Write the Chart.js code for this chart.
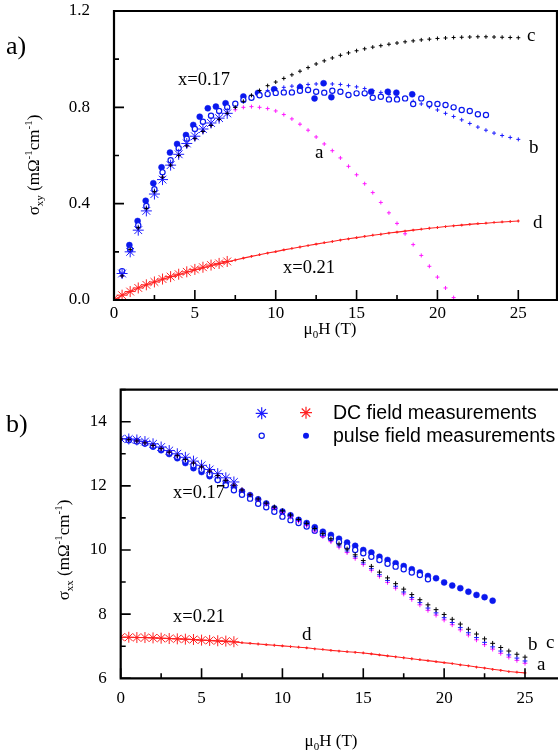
<!DOCTYPE html>
<html>
<head>
<meta charset="utf-8">
<script src="https://cdn.jsdelivr.net/npm/chart.js@4.4.0/dist/chart.umd.min.js"></script>
<style>
  html, body { margin: 0; padding: 0; background: #fff; }
  body { width: 558px; height: 752px; position: relative; overflow: hidden; }
  canvas { position: absolute; left: 0; }
  #hallChart { top: 0; }
  #longChart { top: 380px; }
</style>
</head>
<body>
<canvas id="hallChart" width="558" height="380"></canvas>
<canvas id="longChart" width="558" height="372"></canvas>
<script>
// Field grid (T) used by the model curves
const fieldFull = [0, 0.5, 1, 1.5, 2, 2.5, 3, 3.5, 4, 4.5, 5, 5.5, 6, 6.5, 7, 7.5, 8, 8.5, 9, 9.5,
  10, 10.5, 11, 11.5, 12, 12.5, 13, 13.5, 14, 14.5, 15, 15.5, 16, 16.5, 17, 17.5, 18, 18.5, 19, 19.5,
  20, 20.5, 21, 21.5, 22, 22.5, 23, 23.5, 24, 24.5, 25];
const fieldDc = fieldFull.slice(0, 15);          // 0 .. 7 T
const fieldPulse = fieldFull.slice(1, 47);       // 0.5 .. 23 T

// ---- sigma_xy (top panel) ----
const xyCurveA = [0, 0.10, 0.21, 0.30, 0.38, 0.45, 0.51, 0.56, 0.60, 0.64, 0.67, 0.70, 0.725, 0.75,
  0.775, 0.79, 0.80, 0.803, 0.80, 0.795, 0.785, 0.77, 0.752, 0.73, 0.705, 0.677, 0.648, 0.62, 0.59, 0.555,
  0.52, 0.483, 0.446, 0.405, 0.362, 0.318, 0.275, 0.23, 0.185, 0.14, 0.095, 0.05, 0.01, -0.03];
const xyCurveB = [0, 0.10, 0.21, 0.30, 0.38, 0.45, 0.51, 0.56, 0.60, 0.64, 0.67, 0.70, 0.725, 0.75,
  0.775, 0.80, 0.825, 0.845, 0.86, 0.87, 0.877, 0.883, 0.888, 0.892, 0.895, 0.897, 0.898, 0.897, 0.895, 0.89,
  0.885, 0.878, 0.87, 0.862, 0.853, 0.844, 0.835, 0.825, 0.814, 0.802, 0.789, 0.775, 0.762, 0.748, 0.733,
  0.718, 0.705, 0.693, 0.683, 0.675, 0.667];
const xyCurveC = [0, 0.10, 0.21, 0.30, 0.38, 0.45, 0.51, 0.56, 0.60, 0.64, 0.67, 0.70, 0.725, 0.75,
  0.775, 0.80, 0.825, 0.85, 0.87, 0.89, 0.905, 0.92, 0.935, 0.95, 0.965, 0.98, 0.993, 1.005, 1.016, 1.026,
  1.035, 1.043, 1.05, 1.056, 1.062, 1.067, 1.072, 1.076, 1.08, 1.083, 1.086, 1.088, 1.09, 1.091, 1.092,
  1.093, 1.093, 1.092, 1.091, 1.09, 1.089];
const xyCurveD = [0, 0.02, 0.035, 0.05, 0.063, 0.075, 0.086, 0.096, 0.106, 0.115, 0.125, 0.134, 0.143,
  0.151, 0.159, 0.166, 0.174, 0.181, 0.188, 0.195, 0.201, 0.208, 0.214, 0.22, 0.226, 0.232, 0.238, 0.243,
  0.249, 0.254, 0.259, 0.264, 0.269, 0.273, 0.278, 0.282, 0.286, 0.29, 0.294, 0.298, 0.301, 0.305, 0.308,
  0.311, 0.314, 0.317, 0.319, 0.322, 0.324, 0.326, 0.328];
const xyDc17 = [0.11, 0.20, 0.29, 0.37, 0.44, 0.50, 0.56, 0.605, 0.65, 0.68, 0.71, 0.735, 0.755, 0.775];
const xyDc21 = [0.005, 0.02, 0.035, 0.05, 0.063, 0.075, 0.087, 0.097, 0.107, 0.117, 0.127, 0.136, 0.145,
  0.152, 0.16];
const xyPulseOpen = [0.12, 0.21, 0.31, 0.39, 0.46, 0.53, 0.58, 0.63, 0.67, 0.71, 0.74, 0.765, 0.785, 0.80,
  0.815, 0.83, 0.84, 0.85, 0.855, 0.86, 0.862, 0.862, 0.869, 0.872, 0.865, 0.861, 0.869, 0.865, 0.851,
  0.858, 0.858, 0.84, 0.844, 0.833, 0.833, 0.837, 0.814, 0.837, 0.814, 0.814, 0.81, 0.80, 0.789, 0.785,
  0.771, 0.768];
const xyPulseFilledField = [0.95, 1.46, 1.96, 2.43, 2.94, 3.46, 3.9, 4.45, 4.9, 5.3, 5.8, 6.3, 6.9, 8.0,
  8.9, 9.9, 11.5, 12.4, 12.96, 13.44, 15.9, 16.93, 17.46, 18.44];
const xyPulseFilled = [0.228, 0.328, 0.412, 0.485, 0.551, 0.612, 0.648, 0.685, 0.727, 0.761, 0.796, 0.803,
  0.817, 0.845, 0.86, 0.875, 0.883, 0.837, 0.90, 0.842, 0.865, 0.865, 0.861, 0.854];

// ---- sigma_xx (bottom panel) ----
const xxCurveA = [13.46, 13.44, 13.40, 13.34, 13.26, 13.16, 13.05, 12.94, 12.82, 12.71, 12.59, 12.46,
  12.32, 12.17, 12.02, 11.87, 11.72, 11.57, 11.43, 11.30, 11.17, 11.03, 10.89, 10.76, 10.59, 10.42, 10.26,
  10.09, 9.92, 9.74, 9.55, 9.37, 9.18, 8.99, 8.81, 8.63, 8.46, 8.29, 8.12, 7.97, 7.82, 7.67, 7.51, 7.35,
  7.20, 7.05, 6.91, 6.78, 6.66, 6.56, 6.47];
const xxCurveB = [13.46, 13.44, 13.40, 13.34, 13.26, 13.16, 13.05, 12.94, 12.82, 12.71, 12.59, 12.46,
  12.32, 12.17, 12.02, 11.87, 11.72, 11.58, 11.44, 11.32, 11.19, 11.06, 10.92, 10.79, 10.63, 10.46, 10.30,
  10.13, 9.97, 9.79, 9.60, 9.42, 9.23, 9.05, 8.87, 8.69, 8.52, 8.36, 8.19, 8.04, 7.89, 7.74, 7.58, 7.42,
  7.27, 7.12, 6.98, 6.85, 6.73, 6.63, 6.54];
const xxCurveC = [13.46, 13.44, 13.40, 13.34, 13.26, 13.16, 13.05, 12.94, 12.82, 12.71, 12.59, 12.46,
  12.32, 12.17, 12.02, 11.87, 11.72, 11.59, 11.46, 11.34, 11.22, 11.09, 10.95, 10.83, 10.67, 10.51, 10.35,
  10.19, 10.03, 9.85, 9.67, 9.49, 9.31, 9.13, 8.95, 8.78, 8.61, 8.45, 8.29, 8.14, 7.99, 7.84, 7.69, 7.53,
  7.38, 7.23, 7.09, 6.96, 6.85, 6.75, 6.66];
const xxCurveD = [7.28, 7.28, 7.27, 7.27, 7.26, 7.25, 7.24, 7.23, 7.22, 7.20, 7.19, 7.18, 7.16, 7.15,
  7.13, 7.11, 7.09, 7.07, 7.05, 7.03, 7.01, 6.99, 6.97, 6.95, 6.92, 6.90, 6.87, 6.85, 6.83, 6.81, 6.79,
  6.76, 6.73, 6.70, 6.67, 6.64, 6.61, 6.58, 6.55, 6.52, 6.49, 6.46, 6.42, 6.39, 6.35, 6.32, 6.28, 6.25,
  6.21, 6.19, 6.17];
const xxDc17 = [13.47, 13.46, 13.43, 13.38, 13.31, 13.21, 13.10, 13.0, 12.89, 12.77, 12.64, 12.51, 12.38,
  12.25, 12.12];
const xxDc21 = [7.28, 7.28, 7.27, 7.27, 7.26, 7.25, 7.24, 7.23, 7.22, 7.21, 7.19, 7.18, 7.17, 7.16, 7.14];
const xxPulseOpen = [13.42, 13.38, 13.32, 13.24, 13.14, 13.02, 12.9, 12.78, 12.64, 12.5, 12.35, 12.18,
  12.02, 11.86, 11.72, 11.6, 11.44, 11.33, 11.19, 11.04, 10.93, 10.84, 10.73, 10.6, 10.48, 10.37, 10.25,
  10.11, 10.0, 9.9, 9.79, 9.69, 9.57, 9.48, 9.4, 9.3, 9.22, 9.09];
const xxPulseFilled = [13.44, 13.40, 13.33, 13.22, 13.11, 12.99, 12.86, 12.71, 12.55, 12.43, 12.3, 12.19,
  12.07, 11.95, 11.83, 11.71, 11.58, 11.45, 11.3, 11.2, 11.08, 10.94, 10.84, 10.71, 10.57, 10.47, 10.35,
  10.23, 10.13, 10.0, 9.92, 9.79, 9.69, 9.59, 9.5, 9.4, 9.3, 9.19, 9.12, 8.99, 8.89, 8.81, 8.7, 8.6, 8.53,
  8.42];

const BLACK = '#000000';
const BLUE = '#1c1cff';
const DOT_BLUE = '#0a18ee';
const MAGENTA = '#ff1aff';
const RED = '#ff2222';
const SERIF = '"Liberation Serif", "Times New Roman", serif';
const SANS = '"Liberation Sans", Arial, sans-serif';

const pts = (xs, ys) => ys.map((v, i) => ({ x: xs[i], y: v }));
const isStep = (v, s) => Math.abs(v / s - Math.round(v / s)) < 1e-6;

function crosses(data, color, r) {
  return { data, showLine: false, pointStyle: 'cross', pointRadius: r, borderColor: color,
    backgroundColor: color, borderWidth: 1 };
}
function asterisks(data, color) {
  return { data, showLine: false, pointStyle: 'star', pointRadius: 5.5, borderColor: color,
    backgroundColor: color, borderWidth: 1 };
}
function openDots(data) {
  return { data, showLine: false, pointStyle: 'circle', pointRadius: 2.6, borderColor: DOT_BLUE,
    backgroundColor: '#ffffff', borderWidth: 1.2 };
}
function filledDots(data) {
  return { data, showLine: false, pointStyle: 'circle', pointRadius: 3, borderColor: DOT_BLUE,
    backgroundColor: DOT_BLUE, borderWidth: 0.5 };
}
function redLine(data) {
  return { data, showLine: true, pointStyle: 'cross', pointRadius: 1.4, borderColor: RED,
    backgroundColor: RED, borderWidth: 1.1, tension: 0 };
}

// text with sub/superscripts, optionally rotated for the y title
function drawRich(ctx, parts, cx, cy, rotate) {
  ctx.save();
  ctx.translate(cx, cy);
  if (rotate) ctx.rotate(-Math.PI / 2);
  let total = 0;
  parts.forEach(p => {
    ctx.font = p.size + 'px ' + SERIF;
    p.w = ctx.measureText(p.t).width;
    total += p.w;
  });
  let x = -total / 2;
  ctx.fillStyle = BLACK;
  ctx.textAlign = 'left';
  ctx.textBaseline = 'alphabetic';
  parts.forEach(p => {
    ctx.font = p.size + 'px ' + SERIF;
    ctx.fillText(p.t, x, p.dy || 0);
    x += p.w;
  });
  ctx.restore();
}

function makeDecor(cfg) {
  return {
    id: 'panelDecor',
    afterDatasetsDraw(chart) {
      const { ctx, chartArea: a, scales: { x, y } } = chart;
      const right = cfg.frameRight;
      ctx.save();
      ctx.strokeStyle = BLACK;
      ctx.lineWidth = 1.6;
      ctx.beginPath();
      x.ticks.forEach(t => {
        const px = x.getPixelForValue(t.value);
        const len = isStep(t.value, 5) ? 10 : 5;
        ctx.moveTo(px, a.bottom);
        ctx.lineTo(px, a.bottom - len);
      });
      y.ticks.forEach(t => {
        const py = y.getPixelForValue(t.value);
        const len = isStep(t.value, cfg.yMajor) ? 10 : 5;
        ctx.moveTo(a.left, py);
        ctx.lineTo(a.left + len, py);
      });
      ctx.stroke();

      // frame
      ctx.lineWidth = 2.2;
      ctx.beginPath();
      ctx.moveTo(right + 1, a.top);
      ctx.lineTo(a.left, a.top);
      ctx.lineTo(a.left, a.bottom);
      ctx.lineTo(right + 1, a.bottom);
      ctx.stroke();
      if (cfg.rightBorder) {
        ctx.beginPath();
        ctx.moveTo(right, a.top);
        ctx.lineTo(right, a.bottom);
        ctx.stroke();
      }

      // annotations
      ctx.fillStyle = BLACK;
      ctx.textAlign = 'left';
      ctx.textBaseline = 'alphabetic';
      cfg.notes.forEach(n => {
        ctx.font = n.size + 'px ' + (n.sans ? SANS : SERIF);
        ctx.fillText(n.t, n.x, n.y);
      });

      // axis titles
      drawRich(ctx, [
        { t: 'μ', size: 17 }, { t: '0', size: 11, dy: 4 }, { t: 'H (T)', size: 17 }
      ], cfg.xTitle[0], cfg.xTitle[1], false);
      drawRich(ctx, [
        { t: 'σ', size: 17 }, { t: cfg.sub, size: 11, dy: 4 }, { t: ' (mΩ', size: 17 },
        { t: '-1', size: 11, dy: -7 }, { t: 'cm', size: 17 }, { t: '-1', size: 11, dy: -7 },
        { t: ')', size: 17 }
      ], cfg.yTitle[0], cfg.yTitle[1], true);

      if (cfg.legend) cfg.legend(ctx);
      ctx.restore();
    }
  };
}

// keep the plot box where the layout padding puts it (no room reserved for edge labels)
function fixBox(s, size) {
  if (s.isHorizontal()) s.height = size; else s.width = size;
  s.paddingLeft = 0;
  s.paddingRight = 0;
  s.paddingTop = 0;
  s.paddingBottom = 0;
}

// stretch the field axis so that `field` tesla falls on pixel `px`
function pinField(chart, field, px) {
  const a = chart.chartArea;
  chart.options.scales.x.max = field * (a.right - a.left) / (px - a.left);
  chart.update('none');
}

function panelOptions(cfg) {
  const tickFont = { family: SERIF, size: 17 };
  return {
    responsive: false,
    animation: false,
    devicePixelRatio: 1,
    events: [],
    layout: { padding: { top: cfg.padTop, right: 0, left: 0, bottom: 0 } },
    plugins: { legend: { display: false }, tooltip: { enabled: false } },
    scales: {
      x: {
        type: 'linear', min: 0, max: 27,
        grid: { display: false, drawTicks: false },
        border: { display: false },
        ticks: {
          stepSize: 2.5, includeBounds: false, autoSkip: false, maxRotation: 0,
          padding: cfg.xPad, color: BLACK, font: tickFont,
          callback: v => isStep(v, 5) ? String(Math.round(v)) : ''
        },
        afterFit: s => fixBox(s, cfg.xHeight)
      },
      y: {
        type: 'linear', min: cfg.yMin, max: cfg.yMax,
        grid: { display: false, drawTicks: false },
        border: { display: false },
        ticks: {
          stepSize: cfg.yStep, includeBounds: false, autoSkip: false,
          padding: cfg.yPad, color: BLACK, font: tickFont,
          callback: v => isStep(v, cfg.yMajor) ? cfg.yFmt(v) : ''
        },
        afterFit: s => fixBox(s, cfg.yWidth)
      }
    }
  };
}

// ---------- top panel: Hall conductivity ----------
const hallCfg = {
  padTop: 11, xHeight: 80, xPad: 3,
  yMin: 0, yMax: 1.2, yStep: 0.2, yMajor: 0.4, yWidth: 114, yPad: 24,
  yFmt: v => v.toFixed(1)
};
const hallChart = new Chart(document.getElementById('hallChart'), {
  type: 'scatter',
  data: {
    datasets: [
      crosses(pts(fieldFull, xyCurveC), BLACK, 2),
      asterisks(pts(fieldFull.slice(1, 15), xyDc17), BLUE),
      openDots(pts(fieldPulse, xyPulseOpen)),
      filledDots(pts(xyPulseFilledField, xyPulseFilled)),
      crosses(pts(fieldFull, xyCurveB), BLUE, 2),
      crosses(pts(fieldFull, xyCurveA), MAGENTA, 2),
      asterisks(pts(fieldDc, xyDc21), RED),
      redLine(pts(fieldFull, xyCurveD))
    ]
  },
  options: panelOptions(hallCfg),
  plugins: [makeDecor({
    yMajor: 0.4, rightBorder: true, frameRight: 557, sub: 'xy',
    xTitle: [330, 334], yTitle: [39, 165],
    notes: [
      { t: 'a)', x: 6, y: 54, size: 26 },
      { t: 'x=0.17', x: 178, y: 85, size: 18.5 },
      { t: 'x=0.21', x: 283, y: 273, size: 18.5 },
      { t: 'a', x: 315, y: 158, size: 19 },
      { t: 'b', x: 529, y: 153, size: 19 },
      { t: 'c', x: 527, y: 41, size: 19 },
      { t: 'd', x: 533, y: 228, size: 19 }
    ]
  })]
});
pinField(hallChart, 25, 518.3);

// ---------- bottom panel: longitudinal conductivity ----------
const longCfg = {
  padTop: 9.6, xHeight: 73.7, xPad: 10,
  yMin: 6, yMax: 15, yStep: 1, yMajor: 2, yWidth: 120.7, yPad: 14,
  yFmt: v => String(Math.round(v))
};
const longChart = new Chart(document.getElementById('longChart'), {
  type: 'scatter',
  data: {
    datasets: [
      crosses(pts(fieldFull, xxCurveC), BLACK, 2.4),
      crosses(pts(fieldFull, xxCurveB), BLUE, 2.4),
      crosses(pts(fieldFull, xxCurveA), MAGENTA, 2.4),
      asterisks(pts(fieldDc, xxDc17), BLUE),
      openDots(pts(fieldFull.slice(1, 39), xxPulseOpen)),
      filledDots(pts(fieldPulse, xxPulseFilled)),
      asterisks(pts(fieldDc, xxDc21), RED),
      redLine(pts(fieldFull, xxCurveD))
    ]
  },
  options: panelOptions(longCfg),
  plugins: [makeDecor({
    yMajor: 2, rightBorder: false, frameRight: 558, sub: 'xx',
    xTitle: [331, 366], yTitle: [69, 170],
    notes: [
      { t: 'b)', x: 6, y: 52, size: 26 },
      { t: 'DC field measurements', x: 333, y: 39, size: 19.5, sans: true },
      { t: 'pulse field measurements', x: 333, y: 61.5, size: 19.5, sans: true },
      { t: 'x=0.17', x: 173, y: 118, size: 18.5 },
      { t: 'x=0.21', x: 173, y: 242, size: 18.5 },
      { t: 'd', x: 302, y: 260, size: 19 },
      { t: 'b', x: 528, y: 270, size: 19 },
      { t: 'c', x: 546, y: 268, size: 19 },
      { t: 'a', x: 537, y: 290, size: 19 }
    ],
    legend: ctx => {
      // marker samples for the legend rows
      const star = (cx, cy, color) => {
        ctx.strokeStyle = color;
        ctx.lineWidth = 1.2;
        ctx.beginPath();
        for (let k = 0; k < 4; k++) {
          const ang = k * Math.PI / 4;
          ctx.moveTo(cx - 6 * Math.cos(ang), cy - 6 * Math.sin(ang));
          ctx.lineTo(cx + 6 * Math.cos(ang), cy + 6 * Math.sin(ang));
        }
        ctx.stroke();
      };
      star(261.7, 33.3, BLUE);
      star(306, 32.7, RED);
      ctx.lineWidth = 1.2;
      ctx.strokeStyle = DOT_BLUE;
      ctx.fillStyle = '#ffffff';
      ctx.beginPath();
      ctx.arc(261.7, 55.7, 2.6, 0, Math.PI * 2);
      ctx.fill();
      ctx.stroke();
      ctx.fillStyle = DOT_BLUE;
      ctx.beginPath();
      ctx.arc(306, 55.7, 3, 0, Math.PI * 2);
      ctx.fill();
    }
  })]
});
pinField(longChart, 25, 525);
</script>
</body>
</html>
